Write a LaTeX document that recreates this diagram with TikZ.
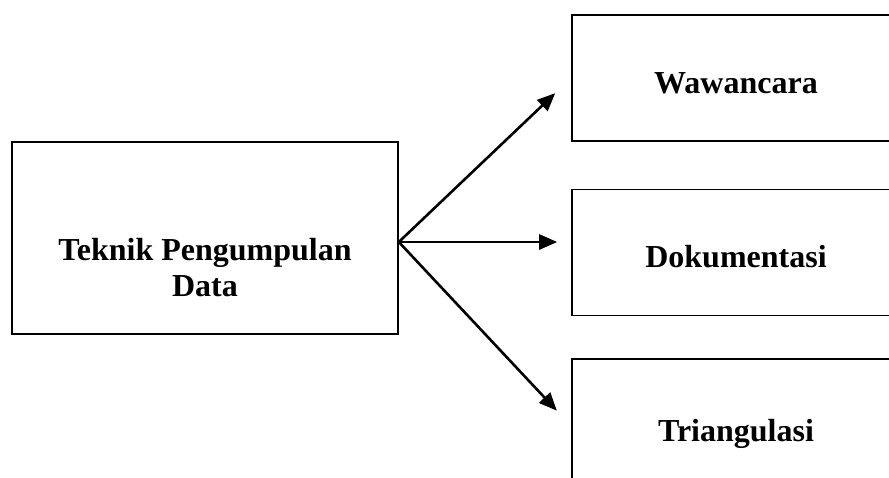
\documentclass[tikz,border=0pt]{standalone}
\usepackage{fontspec}
\setmainfont{Liberation Serif}
\usetikzlibrary{arrows.meta}

\tikzset{
  bigbox/.style={draw, line width=1.6pt, font=\fontsize{32}{36}\selectfont\bfseries, align=center},
  itembox/.style={bigbox, minimum width=328pt, minimum height=126pt, text height=30pt, text depth=0pt},
  arr/.style={line width=2.6pt, -{Triangle[length=18pt,width=15pt]}}
}

\begin{document}
\begin{tikzpicture}[x=1pt,y=1pt]
\useasboundingbox (0,0) rectangle (889,-477);
\clip (0,0) rectangle (889,-477);

\node[bigbox, minimum width=386pt, minimum height=192pt, text height=116pt, text depth=0pt] (teknik) at (205,-238) {Teknik Pengumpulan\\Data};

\node[itembox] (wawancara) at (736,-78) {Wawancara};
\node[itembox] (dokumentasi) at (736,-252.5) {Dokumentasi};
\node[itembox, minimum height=134pt] (triangulasi) at (736,-426) {Triangulasi};

\draw[arr, shorten >=22pt] ([yshift=-4pt]teknik.east) -- (wawancara.west);
\draw[arr, shorten >=14pt] ([yshift=-4pt]teknik.east) -- ([yshift=-4pt]teknik.east -| dokumentasi.west);
\draw[arr, shorten >=21pt] ([yshift=-4pt]teknik.east) -- (triangulasi.west);

\end{tikzpicture}
\end{document}
